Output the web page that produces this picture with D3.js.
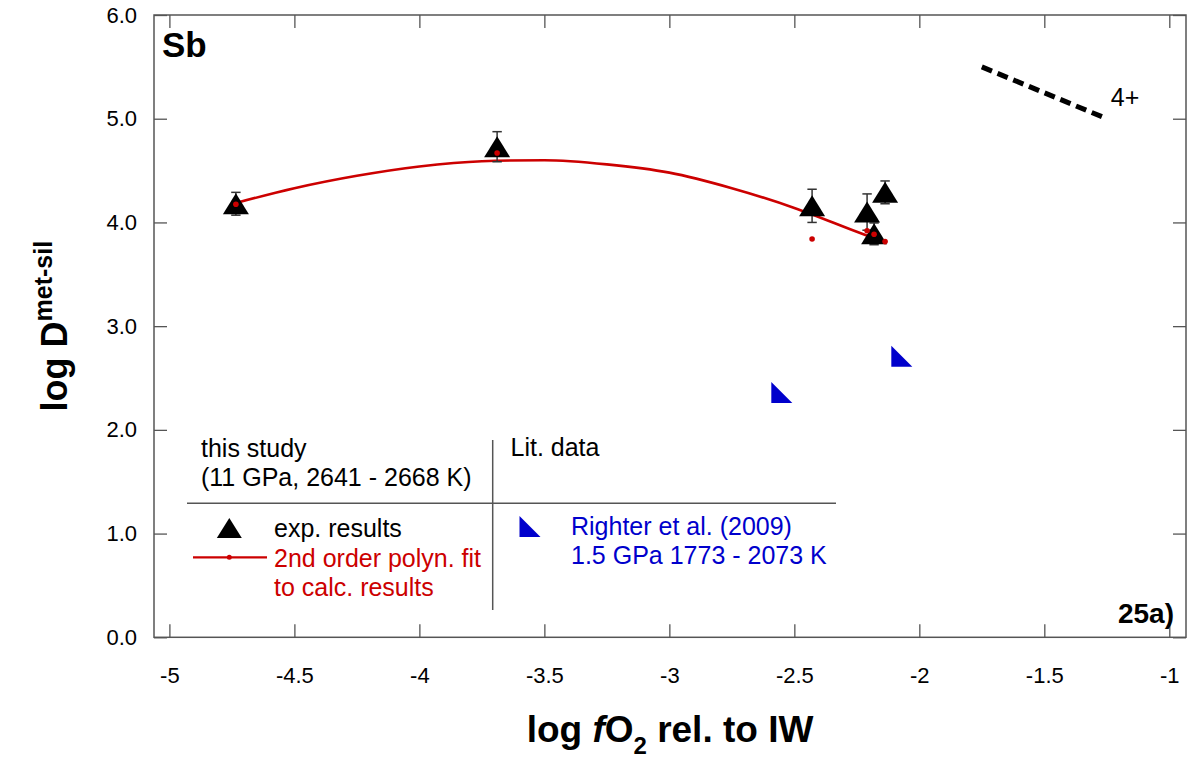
<!DOCTYPE html>
<html>
<head>
<meta charset="utf-8">
<script src="https://cdn.jsdelivr.net/npm/d3@7"></script>
<style>
  body { margin: 0; background: #fff; }
  svg { display: block; font-family: Arial, "Liberation Sans", sans-serif; }
</style>
</head>
<body>
<div id="chart"></div>
<script>
// this study: experimental results
var expX   = [-4.734, -3.689, -2.429, -2.209, -2.137, -2.181];
var expY   = [4.18, 4.73, 4.16, 4.10, 4.29, 3.89];
var expErr = [0.11, 0.145, 0.16, 0.175, 0.11, 0.105];
// calculated results (red dots)
var calcY  = [4.175, 4.67, 3.84, 3.92, 3.815, 3.886];
// 2nd order polyn. fit
var fitX = [-4.73, -4.5, -4.25, -4.0, -3.75, -3.5, -3.25, -3.0, -2.75, -2.5, -2.25, -2.14];
var fitY = [4.19, 4.33, 4.45, 4.54, 4.59, 4.60, 4.56, 4.48, 4.33, 4.14, 3.91, 3.81];
// Righter et al. (2009)
var litX = [-2.55, -2.07];
var litY = [2.36, 2.71];
// 4+ slope line
var ox4X = [-1.75, -1.25];
var ox4Y = [5.5, 5.0];

var xTicks = [-5, -4.5, -4, -3.5, -3, -2.5, -2, -1.5, -1];
var yTicks = [0, 1, 2, 3, 4, 5, 6];

var W = 1189, H = 762;
var pLeft = 154, pRight = 1186, pTop = 15, pBottom = 637.3;

var svg = d3.select("#chart").append("svg")
    .attr("width", W)
    .attr("height", H);

var x = d3.scaleLinear().domain([-5.0616, -0.9332]).range([pLeft, pRight]);
var y = d3.scaleLinear().domain([0, 6]).range([pBottom, pTop]);

var red = "#cc0000", blue = "#0000cc", axisCol = "#555";

// axes (inward ticks on all four sides)
function styleAxis(g) {
    g.select(".domain").remove();
    g.selectAll(".tick line").attr("stroke", axisCol).attr("stroke-width", 1.3);
    g.selectAll("text").attr("fill", "#000");
    g.attr("font-size", 22).attr("font-family", null);
}
svg.append("g")
    .attr("transform", "translate(0," + pBottom + ")")
    .call(d3.axisBottom(x).tickValues(xTicks).tickSizeInner(-13).tickSizeOuter(0)
        .tickPadding(30).tickFormat(function(d) { return String(d); }))
    .call(styleAxis);
svg.append("g")
    .attr("transform", "translate(0," + pTop + ")")
    .call(d3.axisTop(x).tickValues(xTicks).tickSizeInner(-13).tickSizeOuter(0).tickFormat(""))
    .call(styleAxis);
svg.append("g")
    .attr("transform", "translate(" + pLeft + ",0)")
    .call(d3.axisLeft(y).tickValues(yTicks).tickSizeInner(-13).tickSizeOuter(0)
        .tickPadding(17).tickFormat(d3.format(".1f")))
    .call(styleAxis);
svg.append("g")
    .attr("transform", "translate(" + pRight + ",0)")
    .call(d3.axisRight(y).tickValues(yTicks).tickSizeInner(-13).tickSizeOuter(0).tickFormat(""))
    .call(styleAxis);

svg.append("rect")
    .attr("x", pLeft).attr("y", pTop)
    .attr("width", pRight - pLeft).attr("height", pBottom - pTop)
    .attr("fill", "none").attr("stroke", axisCol).attr("stroke-width", 1.5);

// fit curve
var fit = fitX.map(function(d, i) { return [d, fitY[i]]; });
svg.append("path")
    .datum(fit)
    .attr("fill", "none")
    .attr("stroke", red)
    .attr("stroke-width", 2.6)
    .attr("d", d3.line().x(function(d) { return x(d[0]); }).y(function(d) { return y(d[1]); })
        .curve(d3.curveMonotoneX));

// 4+ dashed line
svg.append("line")
    .attr("x1", x(ox4X[0])).attr("y1", y(ox4Y[0]))
    .attr("x2", x(ox4X[1])).attr("y2", y(ox4Y[1]))
    .attr("stroke", "#000").attr("stroke-width", 5)
    .attr("stroke-dasharray", "11,6");
svg.append("text")
    .attr("x", x(ox4X[1]) + 4).attr("y", y(ox4Y[1]) - 13)
    .attr("font-size", 25)
    .text("4+");

// experimental points
var exp = expX.map(function(d, i) {
    return { x: d, y: expY[i], e: expErr[i], c: calcY[i] };
});
var eb = svg.append("g").attr("stroke", "#333").attr("stroke-width", 1.5);
exp.forEach(function(d) {
    var cx = x(d.x), y1 = y(d.y + d.e), y2 = y(d.y - d.e);
    eb.append("line").attr("x1", cx).attr("x2", cx).attr("y1", y1).attr("y2", y2);
    eb.append("line").attr("x1", cx - 4.7).attr("x2", cx + 4.7).attr("y1", y1).attr("y2", y1);
    eb.append("line").attr("x1", cx - 4.7).attr("x2", cx + 4.7).attr("y1", y2).attr("y2", y2);
});

var triPath = "M0,-10.5L13,10.5L-13,10.5Z";
svg.append("g").selectAll("path")
    .data(exp).enter()
    .append("path")
    .attr("d", triPath)
    .attr("transform", function(d) { return "translate(" + x(d.x) + "," + y(d.y) + ")"; })
    .attr("fill", "#000");

svg.append("g").selectAll("circle")
    .data(exp).enter()
    .append("circle")
    .attr("cx", function(d) { return x(d.x); })
    .attr("cy", function(d) { return y(d.c); })
    .attr("r", 2.8)
    .attr("fill", red);

// literature data
var rtPath = "M-10.5,-10.5L10.5,10.5L-10.5,10.5Z";
svg.append("g").selectAll("path")
    .data(litX).enter()
    .append("path")
    .attr("d", rtPath)
    .attr("transform", function(d, i) { return "translate(" + x(d) + "," + y(litY[i]) + ")"; })
    .attr("fill", blue);

// panel labels
svg.append("text").attr("x", 162).attr("y", 57)
    .attr("font-size", 35).attr("font-weight", "bold").text("Sb");
svg.append("text").attr("x", 1174).attr("y", 623)
    .attr("text-anchor", "end")
    .attr("font-size", 28).attr("font-weight", "bold").text("25a)");

// legend
var lg = svg.append("g").attr("font-size", 25);
lg.append("line").attr("x1", 187).attr("x2", 836).attr("y1", 503.3).attr("y2", 503.3)
    .attr("stroke", axisCol).attr("stroke-width", 1.5);
lg.append("line").attr("x1", 492.7).attr("x2", 492.7).attr("y1", 440).attr("y2", 610)
    .attr("stroke", axisCol).attr("stroke-width", 1.5);
lg.append("text").attr("x", 201).attr("y", 456.5).text("this study");
lg.append("text").attr("x", 201).attr("y", 485.5).text("(11 GPa, 2641 - 2668 K)");
lg.append("text").attr("x", 510.5).attr("y", 456).text("Lit. data");

lg.append("path").attr("d", "M0,-10L12.5,10L-12.5,10Z")
    .attr("transform", "translate(229.3,528)").attr("fill", "#000");
lg.append("text").attr("x", 274).attr("y", 536.5).text("exp. results");
lg.append("line").attr("x1", 193).attr("x2", 267).attr("y1", 557.3).attr("y2", 557.3)
    .attr("stroke", red).attr("stroke-width", 2.2);
lg.append("circle").attr("cx", 229.3).attr("cy", 557.3).attr("r", 2.5).attr("fill", red);
lg.append("text").attr("x", 274).attr("y", 566.5).attr("fill", red).text("2nd order polyn. fit");
lg.append("text").attr("x", 274).attr("y", 596).attr("fill", red).text("to calc. results");

lg.append("path").attr("d", rtPath)
    .attr("transform", "translate(530,526.5)").attr("fill", blue);
lg.append("text").attr("x", 571).attr("y", 535).attr("fill", blue).text("Righter et al. (2009)");
lg.append("text").attr("x", 571).attr("y", 563.5).attr("fill", blue).text("1.5 GPa 1773 - 2073 K");

// axis titles
var xt = svg.append("text")
    .attr("x", (pLeft + pRight) / 2).attr("y", 742)
    .attr("text-anchor", "middle")
    .attr("font-size", 37).attr("font-weight", "bold");
xt.append("tspan").text("log ");
xt.append("tspan").attr("font-style", "italic").text("f");
xt.append("tspan").text("O");
xt.append("tspan").attr("font-size", 24).attr("dy", 12).text("2");
xt.append("tspan").attr("dy", -12).text(" rel. to IW");

var yt = svg.append("text")
    .attr("transform", "translate(67," + (pTop + pBottom) / 2 + ") rotate(-90)")
    .attr("text-anchor", "middle")
    .attr("font-size", 36).attr("font-weight", "bold");
yt.append("tspan").text("log D");
yt.append("tspan").attr("font-size", 25).attr("dy", -15).text("met-sil");
</script>
</body>
</html>
